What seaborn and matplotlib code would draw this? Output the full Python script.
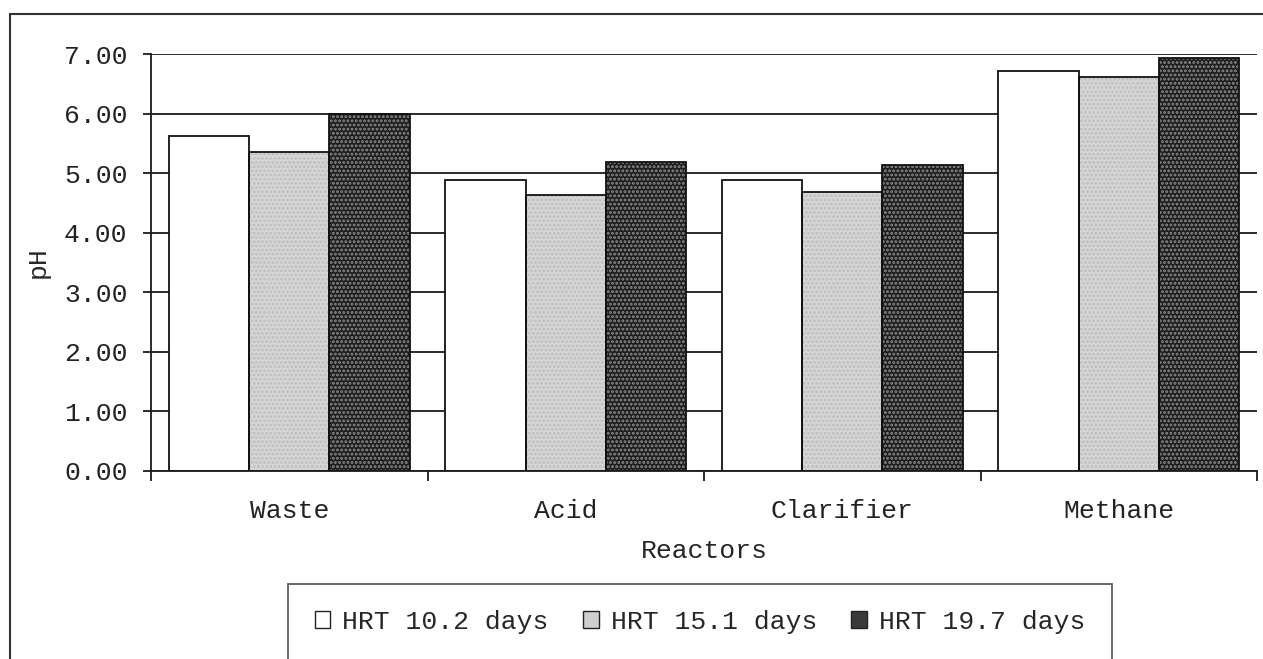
import matplotlib
matplotlib.use("Agg")
import matplotlib.pyplot as plt
import seaborn as sns
import pandas as pd
import numpy as np
from matplotlib.patches import Patch, Rectangle
from matplotlib.ticker import FixedLocator, FormatStrFormatter

categories = ["Waste", "Acid", "Clarifier", "Methane"]
series_names = ["HRT 10.2 days", "HRT 15.1 days", "HRT 19.7 days"]
hrt_10_2 = [5.62, 4.89, 4.89, 6.72]
hrt_15_1 = [5.36, 4.63, 4.69, 6.62]
hrt_19_7 = [6.00, 5.18, 5.13, 6.93]
y_ticks = [0, 1, 2, 3, 4, 5, 6, 7]

rows = []
for name, vals in zip(series_names, [hrt_10_2, hrt_15_1, hrt_19_7]):
    for c, v in zip(categories, vals):
        rows.append({"Reactor": c, "Series": name, "pH": v})
df = pd.DataFrame(rows)

sns.set_style("white")
plt.rcParams["font.family"] = ["Liberation Mono", "DejaVu Sans"]
plt.rcParams["hatch.linewidth"] = 1.4

FS = 19

fig = plt.figure(figsize=(12.63, 6.59), dpi=100)
ax = fig.add_axes([151/1263, 1-471/659, (1257-151)/1263, (471-54)/659])

face = ["#ffffff", "#d6d6d6", "#1e1e1e"]
hatch_col = ["#ffffff", "#bdbdbd", "#8c8c8c"]
hatches = [None, "....", "...."]

sns.barplot(data=df, x="Reactor", y="pH", hue="Series", order=categories,
            hue_order=series_names, palette=face, width=0.87, gap=0,
            saturation=1, errorbar=None, ax=ax, legend=False, zorder=2)
for cont, hc, h in zip(ax.containers, hatch_col, hatches):
    for p in cont:
        p.set_edgecolor(hc)
        p.set_linewidth(0)
        if h:
            p.set_hatch(h)

sns.barplot(data=df, x="Reactor", y="pH", hue="Series", order=categories,
            hue_order=series_names, palette=["#111111"] * 3, width=0.87, gap=0,
            saturation=1, errorbar=None, ax=ax, legend=False, fill=False,
            linewidth=1.3, zorder=3)

ax.set_ylim(0, 7)
ax.set_xlim(-0.5, 3.5)
ax.set_yticks(y_ticks)
ax.yaxis.set_major_formatter(FormatStrFormatter("%.2f"))
ax.yaxis.grid(True, color="#1a1a1a", linewidth=1.3, zorder=0)
ax.set_axisbelow(True)
for s in ["top", "right"]:
    ax.spines[s].set_visible(False)
for s in ["left", "bottom"]:
    ax.spines[s].set_color("#1a1a1a")
    ax.spines[s].set_linewidth(1.3)
    ax.spines[s].set_zorder(4)

ax.tick_params(axis="y", direction="out", length=6, width=1.3, color="#1a1a1a",
               labelsize=FS, pad=11, left=True)
ax.tick_params(axis="x", which="major", length=0, labelsize=FS, pad=20)
ax.xaxis.set_minor_locator(FixedLocator([-0.5, 0.5, 1.5, 2.5, 3.5]))
ax.tick_params(axis="x", which="minor", direction="out", length=7, width=1.3,
               color="#1a1a1a", bottom=True)

ax.set_xlabel("Reactors", fontsize=FS, labelpad=12)
ax.set_ylabel("pH", fontsize=FS, labelpad=10)
for t in ax.get_xticklabels() + ax.get_yticklabels():
    t.set_color("#222222")

# outer frame of the scanned figure
fig.add_artist(Rectangle((10/1263, -0.2), 1.2, 1.2 - 14/659,
                         transform=fig.transFigure, fill=False,
                         edgecolor="#333333", linewidth=1.5))

legend_face = ["#ffffff", "#cfcfcf", "#3a3a3a"]
handles = [Patch(facecolor=f, edgecolor="#222222", linewidth=1.0)
           for f in legend_face]
leg = fig.legend(handles, series_names, loc="center",
                 bbox_to_anchor=(700/1263, 1-622/659), ncol=3, frameon=True,
                 fancybox=False, edgecolor="#333333", fontsize=FS,
                 handlelength=0.6, handleheight=0.6, handletextpad=0.45,
                 columnspacing=1.3, borderpad=1.0)
leg.get_frame().set_linewidth(1.3)

fig.savefig("out.png", dpi=100, facecolor="white")
